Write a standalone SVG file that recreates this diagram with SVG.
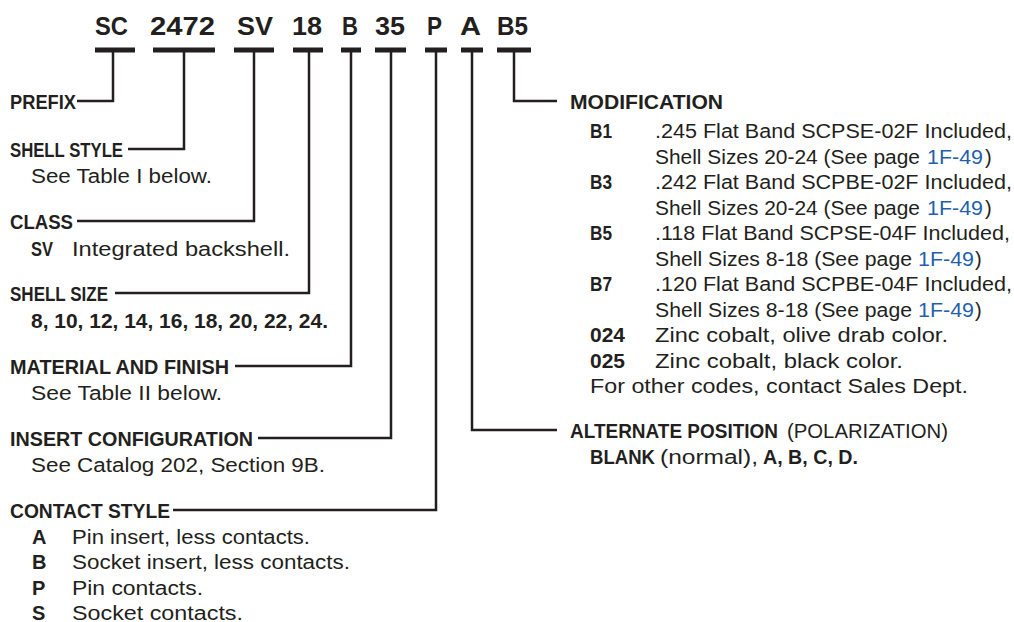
<svg xmlns="http://www.w3.org/2000/svg" width="1014" height="622" viewBox="0 0 1014 622">
<style>
text{font-family:"Liberation Sans",Arial,sans-serif;fill:#231f20;font-size:20px}
.b{font-weight:bold}
.code{font-weight:bold;font-size:25px}
.lnk{fill:#1f5fae}
.bar{fill:#231f20}
.c{fill:none;stroke:#231f20;stroke-width:2.5;stroke-linejoin:miter}
</style>
<rect width="1014" height="622" fill="#ffffff"/>
<g id="codes">
<text class="code" x="95" y="35" textLength="33" lengthAdjust="spacingAndGlyphs">SC</text>
<text class="code" x="150" y="35" textLength="65" lengthAdjust="spacingAndGlyphs">2472</text>
<text class="code" x="237" y="35" textLength="36" lengthAdjust="spacingAndGlyphs">SV</text>
<text class="code" x="292" y="35" textLength="30" lengthAdjust="spacingAndGlyphs">18</text>
<text class="code" x="342" y="35" textLength="16" lengthAdjust="spacingAndGlyphs">B</text>
<text class="code" x="375" y="35" textLength="30" lengthAdjust="spacingAndGlyphs">35</text>
<text class="code" x="427" y="35" textLength="15" lengthAdjust="spacingAndGlyphs">P</text>
<text class="code" x="460" y="35" textLength="21" lengthAdjust="spacingAndGlyphs">A</text>
<text class="code" x="497" y="35" textLength="31" lengthAdjust="spacingAndGlyphs">B5</text>
<rect class="bar" x="95" y="47.5" width="40" height="5"/>
<rect class="bar" x="153" y="47.5" width="62" height="5"/>
<rect class="bar" x="234" y="47.5" width="40" height="5"/>
<rect class="bar" x="293" y="47.5" width="30" height="5"/>
<rect class="bar" x="341" y="47.5" width="20" height="5"/>
<rect class="bar" x="375" y="47.5" width="31" height="5"/>
<rect class="bar" x="425" y="47.5" width="22" height="5"/>
<rect class="bar" x="461" y="47.5" width="22" height="5"/>
<rect class="bar" x="497" y="47.5" width="34" height="5"/>
</g>
<g id="connectors">
<path class="c" d="M113,50 V101 H77"/>
<path class="c" d="M184,50 V149 H128"/>
<path class="c" d="M254,50 V221 H77"/>
<path class="c" d="M309,50 V293 H115"/>
<path class="c" d="M351,50 V366 H235"/>
<path class="c" d="M391,50 V438 H258"/>
<path class="c" d="M436,50 V510 H173"/>
<path class="c" d="M472,50 V430 H557"/>
<path class="c" d="M514,50 V101 H557"/>
</g>
<g id="prefix">
<text class="b" x="10" y="109" textLength="66" lengthAdjust="spacingAndGlyphs">PREFIX</text>
</g>
<g id="shell-style">
<text class="b" x="10" y="157" textLength="113" lengthAdjust="spacingAndGlyphs">SHELL STYLE</text>
<text x="31" y="183" textLength="181" lengthAdjust="spacingAndGlyphs">See Table I below.</text>
</g>
<g id="class">
<text class="b" x="10" y="229" textLength="63" lengthAdjust="spacingAndGlyphs">CLASS</text>
<text class="b" x="31" y="256" textLength="22" lengthAdjust="spacingAndGlyphs">SV</text>
<text x="72" y="256" textLength="218" lengthAdjust="spacingAndGlyphs">Integrated backshell.</text>
</g>
<g id="shell-size">
<text class="b" x="10" y="301" textLength="98" lengthAdjust="spacingAndGlyphs">SHELL SIZE</text>
<text class="b" x="31" y="328" textLength="297" lengthAdjust="spacingAndGlyphs">8, 10, 12, 14, 16, 18, 20, 22, 24.</text>
</g>
<g id="material">
<text class="b" x="10" y="374" textLength="219" lengthAdjust="spacingAndGlyphs">MATERIAL AND FINISH</text>
<text x="31" y="400" textLength="191" lengthAdjust="spacingAndGlyphs">See Table II below.</text>
</g>
<g id="insert">
<text class="b" x="10" y="446" textLength="243" lengthAdjust="spacingAndGlyphs">INSERT CONFIGURATION</text>
<text x="31" y="472" textLength="294" lengthAdjust="spacingAndGlyphs">See Catalog 202, Section 9B.</text>
</g>
<g id="contact-style">
<text class="b" x="10" y="518" textLength="160" lengthAdjust="spacingAndGlyphs">CONTACT STYLE</text>
<text class="b" x="32" y="544">A</text>
<text x="72" y="544" textLength="238" lengthAdjust="spacingAndGlyphs">Pin insert, less contacts.</text>
<text class="b" x="32" y="569">B</text>
<text x="72" y="569" textLength="278" lengthAdjust="spacingAndGlyphs">Socket insert, less contacts.</text>
<text class="b" x="32" y="595">P</text>
<text x="72" y="595" textLength="131" lengthAdjust="spacingAndGlyphs">Pin contacts.</text>
<text class="b" x="32" y="620">S</text>
<text x="72" y="620" textLength="171" lengthAdjust="spacingAndGlyphs">Socket contacts.</text>
</g>
<g id="modification">
<text class="b" x="570" y="109" textLength="153" lengthAdjust="spacingAndGlyphs">MODIFICATION</text>
<text class="b" x="590" y="138" textLength="22" lengthAdjust="spacingAndGlyphs">B1</text>
<text x="655" y="138" textLength="357" lengthAdjust="spacingAndGlyphs">.245 Flat Band SCPSE-02F Included,</text>
<text x="655" y="163.5" textLength="265" lengthAdjust="spacingAndGlyphs">Shell Sizes 20-24 (See page</text>
<text class="lnk" x="927" y="163.5" textLength="56" lengthAdjust="spacingAndGlyphs">1F-49</text>
<text x="985" y="163.5">)</text>
<text class="b" x="590" y="189" textLength="22" lengthAdjust="spacingAndGlyphs">B3</text>
<text x="655" y="189" textLength="357" lengthAdjust="spacingAndGlyphs">.242 Flat Band SCPBE-02F Included,</text>
<text x="655" y="214.5" textLength="265" lengthAdjust="spacingAndGlyphs">Shell Sizes 20-24 (See page</text>
<text class="lnk" x="927" y="214.5" textLength="56" lengthAdjust="spacingAndGlyphs">1F-49</text>
<text x="985" y="214.5">)</text>
<text class="b" x="590" y="240" textLength="22" lengthAdjust="spacingAndGlyphs">B5</text>
<text x="655" y="240" textLength="355" lengthAdjust="spacingAndGlyphs">.118 Flat Band SCPSE-04F Included,</text>
<text x="655" y="265.5" textLength="257" lengthAdjust="spacingAndGlyphs">Shell Sizes 8-18 (See page</text>
<text class="lnk" x="918" y="265.5" textLength="56" lengthAdjust="spacingAndGlyphs">1F-49</text>
<text x="975" y="265.5">)</text>
<text class="b" x="590" y="291" textLength="22" lengthAdjust="spacingAndGlyphs">B7</text>
<text x="655" y="291" textLength="357" lengthAdjust="spacingAndGlyphs">.120 Flat Band SCPBE-04F Included,</text>
<text x="655" y="316.5" textLength="257" lengthAdjust="spacingAndGlyphs">Shell Sizes 8-18 (See page</text>
<text class="lnk" x="918" y="316.5" textLength="56" lengthAdjust="spacingAndGlyphs">1F-49</text>
<text x="975" y="316.5">)</text>
<text class="b" x="590" y="342" textLength="35" lengthAdjust="spacingAndGlyphs">024</text>
<text x="655" y="342" textLength="293" lengthAdjust="spacingAndGlyphs">Zinc cobalt, olive drab color.</text>
<text class="b" x="590" y="367.5" textLength="35" lengthAdjust="spacingAndGlyphs">025</text>
<text x="655" y="367.5" textLength="248" lengthAdjust="spacingAndGlyphs">Zinc cobalt, black color.</text>
<text x="590" y="393" textLength="378" lengthAdjust="spacingAndGlyphs">For other codes, contact Sales Dept.</text>
</g>
<g id="alternate-position">
<text class="b" x="570" y="438" textLength="208" lengthAdjust="spacingAndGlyphs">ALTERNATE POSITION</text>
<text x="787" y="438" textLength="161" lengthAdjust="spacingAndGlyphs">(POLARIZATION)</text>
<text class="b" x="590" y="464" textLength="65" lengthAdjust="spacingAndGlyphs">BLANK</text>
<text x="660" y="464" textLength="98" lengthAdjust="spacingAndGlyphs">(normal),</text>
<text class="b" x="763" y="464" textLength="95" lengthAdjust="spacingAndGlyphs">A, B, C, D.</text>
</g>
</svg>
